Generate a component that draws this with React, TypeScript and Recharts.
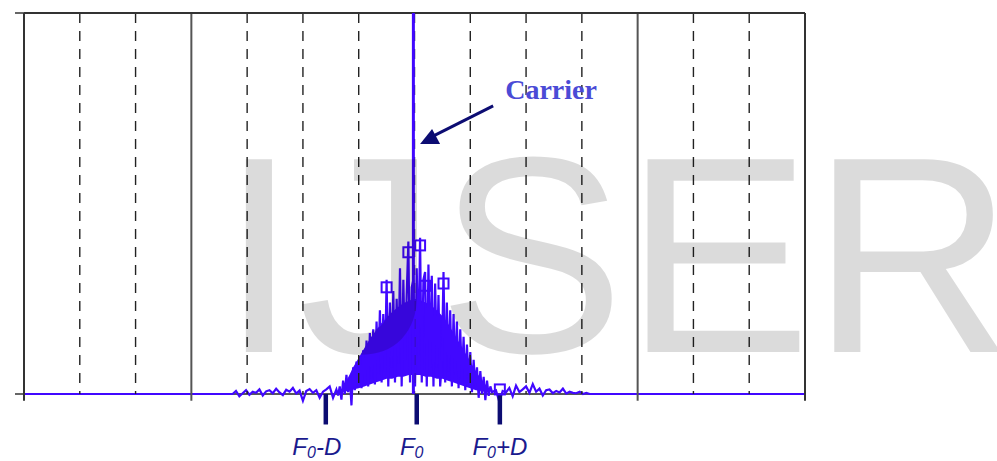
import {
  Area,
  ComposedChart,
  Line,
  ReferenceDot,
  ReferenceLine,
  Scatter,
  XAxis,
  YAxis,
} from 'recharts'

const BLUE = '#4108ff'
const NAVY = '#0c0c72'
const LABEL_NAVY = '#1a1a8e'

// frequency axis: 100 units per grid division, 14 divisions
const GRID_SOLID = [0, 300, 1100, 1400]
const GRID_DASHED = [100, 200, 400, 500, 600, 700, 800, 900, 1000, 1200, 1300]

const CARRIER_FREQ = 698
const CARRIER_LEVEL = 1

// spectrum samples (amplitude, 1 = full scale)
const LEFT_TAIL_START = 374
const CORE_START = 560
const RIGHT_TAIL_START = 846
const TAIL_STEP = 6
const CORE_STEP = 3

const LEFT_TAIL = [
  0, 0.008, -0.006, 0.002, 0.01, -0.002, 0.006, 0.003, 0.012, -0.004, 0.007, 0.01, 0.002,
  0.014, 0.004, -0.003, 0.011, 0.006, 0.016, 0.001, 0.009, -0.018, 0.008, 0.013, 0.003, 0.01,
  -0.01, 0.006, 0.012, 0.02, -0.01,
]

const CORE = [
  0.012, -0.004, 0.02, -0.015, 0.035, 0.0, 0.05, 0.005, 0.045, -0.03,
  0.07, 0.01, 0.085, 0.02, 0.1, 0.015, 0.115, 0.03, 0.14, 0.02,
  0.16, 0.04, 0.17, 0.025, 0.19, 0.05, 0.22, 0.03, 0.21, 0.06,
  0.3, 0.02, 0.24, 0.07, 0.27, 0.03, 0.25, 0.08, 0.33, 0.02,
  0.3, 0.09, 0.26, 0.4, 0.03, 0.28, 0.3, 0.02, 0.33, 0.1,
  0.41, 0.03, 0.3, 0.32, 0.02, 0.34, 0.07, 0.31, 0.02, 0.29,
  0.07, 0.26, 0.02, 0.08, 0.32, 0.03, 0.24, 0.06, 0.22, 0.02,
  0.21, 0.05, 0.19, 0.015, 0.17, 0.04, 0.15, 0.01, 0.13, 0.03,
  0.11, 0.005, 0.09, 0.02, 0.07, -0.01, 0.06, 0.0, 0.045, -0.016,
  0.035, -0.005, 0.02, 0.005,
]

const RIGHT_TAIL = [
  0.01, -0.02, 0.008, 0.004, 0.016, -0.006, 0.022, 0.005, 0.012, 0.02, 0.003, 0.026, 0.006,
  0.014, -0.004, 0.01, 0.012, 0.002, 0.008, 0.004, 0.014, 0.001, 0.006, 0.003, 0.002, 0.006,
  0, 0.003, 0, 0,
]

// solid body of the sideband hump (top and bottom edge)
const BULK_START = 570
const BULK_STEP = 10
const BULK_TOP = [
  0.02, 0.04, 0.07, 0.095, 0.12, 0.145, 0.165, 0.185, 0.2, 0.215, 0.228, 0.238, 0.245, 0.25,
  0.246, 0.24, 0.232, 0.22, 0.205, 0.185, 0.16, 0.135, 0.11, 0.085, 0.06, 0.038, 0.02,
]
const BULK_FLOOR = [
  0.005, 0.008, 0.012, 0.015, 0.02, 0.025, 0.03, 0.035, 0.04, 0.04, 0.045, 0.045, 0.05, 0.05,
  0.05, 0.045, 0.045, 0.04, 0.04, 0.035, 0.03, 0.025, 0.02, 0.015, 0.01, 0.008, 0.005,
]

const MARKER_FREQ = [650, 689, 710, 719, 752, 853]
const MARKER_LEVEL = [0.28, 0.372, 0.39, 0.284, 0.29, 0.012]

const F_TICKS = [541, 704, 853]
const F_SUFFIX = ['-D', '', '+D']
const F_LABEL_DX = [-9, -5, 0]

const ARROW_TAIL = { f: 841, a: 0.756 }
const ARROW_TIP = { f: 710, a: 0.656 }

const spectrum = [
  { f: 0, a: 0 },
  ...LEFT_TAIL.map((a, i) => ({ f: LEFT_TAIL_START + i * TAIL_STEP, a })),
  ...CORE.map((a, i) => ({ f: CORE_START + i * CORE_STEP, a })),
  ...RIGHT_TAIL.map((a, i) => ({ f: RIGHT_TAIL_START + i * TAIL_STEP, a })),
  { f: 1400, a: 0 },
]
const bulk = BULK_TOP.map((top, i) => ({ f: BULK_START + i * BULK_STEP, r: [BULK_FLOOR[i], top] }))
const carrier = [
  { f: CARRIER_FREQ, a: 0 },
  { f: CARRIER_FREQ, a: CARRIER_LEVEL },
]
const markers = MARKER_FREQ.map((f, i) => ({ f, a: MARKER_LEVEL[i] }))

// y domain goes below 0 so the tick bars and labels fit under the baseline
const PLOT_TOP = 13
const PLOT_BOTTOM = 13 + 381 * 1.1

function MarkerSquare(props: any) {
  const { cx, cy } = props
  return (
    <rect x={cx - 5} y={cy - 5} width={10} height={10} fill="none" stroke={BLUE} strokeWidth={2} />
  )
}

function CarrierArrow(props: any) {
  const { x1, y1, x2, y2 } = props
  return (
    <g>
      <line x1={x1} y1={y1} x2={x2 + 13} y2={y2 - 8} stroke={NAVY} strokeWidth={3} />
      <polygon points={`${x2},${y2} ${x2 + 12},${y2 - 15} ${x2 + 20},${y2}`} fill={NAVY} />
      <text
        x={x1 + 12}
        y={y1 - 7}
        fontFamily="'Liberation Serif', 'DejaVu Serif', serif"
        fontWeight="bold"
        fontSize={28}
        fill="#4b4bd6"
      >
        Carrier
      </text>
    </g>
  )
}

function fLabel(i: number) {
  return (props: any) => (
    <text
      x={props.cx + F_LABEL_DX[i]}
      y={props.cy + 31}
      textAnchor="middle"
      fontFamily="'Liberation Sans', Arial, sans-serif"
      fontStyle="italic"
      fontSize={24}
      fill={LABEL_NAVY}
    >
      F
      <tspan fontSize={16} dy={3}>
        0
      </tspan>
      <tspan dy={-3}>{F_SUFFIX[i]}</tspan>
    </text>
  )
}

export default function App() {
  return (
    <div style={{ position: 'absolute', left: 0, top: 0, width: 997, height: 461, background: '#fff' }}>
      <ComposedChart
        width={997}
        height={461}
        margin={{ top: PLOT_TOP, right: 192, bottom: 461 - PLOT_BOTTOM, left: 0 }}
      >
        <XAxis type="number" dataKey="f" domain={[0, 1400]} allowDataOverflow hide />
        <YAxis
          type="number"
          dataKey="a"
          domain={[-0.1, 1]}
          ticks={[0, 1]}
          width={24}
          axisLine={false}
          tickSize={9}
          tickLine={{ stroke: '#333', strokeWidth: 1.5 }}
          tick={() => <g />}
        />

        <ReferenceLine y={0} stroke="#222" strokeWidth={1.5} />

        <Area
          data={bulk}
          dataKey="r"
          type="linear"
          stroke="none"
          fill={BLUE}
          fillOpacity={1}
          isAnimationActive={false}
        />
        <Line
          data={spectrum}
          dataKey="a"
          type="linear"
          stroke={BLUE}
          strokeWidth={2.2}
          dot={false}
          isAnimationActive={false}
        />

        {GRID_DASHED.map((f) => (
          <ReferenceLine
            key={'d' + f}
            segment={[
              { x: f, y: 1 },
              { x: f, y: 0 },
            ]}
            stroke="#222"
            strokeWidth={1.4}
            strokeDasharray="10 8"
          />
        ))}
        {GRID_SOLID.map((f) => (
          <ReferenceLine
            key={'s' + f}
            segment={[
              { x: f, y: 1 },
              { x: f, y: -0.018 },
            ]}
            stroke={f === 0 || f === 1400 ? '#333' : '#555'}
            strokeWidth={2}
          />
        ))}
        <ReferenceLine y={1} stroke="#333" strokeWidth={2} />

        <Line
          data={carrier}
          dataKey="a"
          type="linear"
          stroke={BLUE}
          strokeWidth={3}
          dot={false}
          isAnimationActive={false}
        />
        <Scatter data={markers} dataKey="a" shape={MarkerSquare} isAnimationActive={false} />

        {F_TICKS.map((f) => (
          <ReferenceLine
            key={'t' + f}
            segment={[
              { x: f, y: 0 },
              { x: f, y: -0.08 },
            ]}
            stroke={NAVY}
            strokeWidth={4.5}
          />
        ))}
        {F_TICKS.map((f, i) => (
          <ReferenceDot key={'l' + f} x={f} y={-0.08} r={0} shape={fLabel(i)} />
        ))}

        <ReferenceLine
          segment={[
            { x: ARROW_TAIL.f, y: ARROW_TAIL.a },
            { x: ARROW_TIP.f, y: ARROW_TIP.a },
          ]}
          shape={CarrierArrow}
        />
      </ComposedChart>
      <svg
        width={997}
        height={461}
        style={{ position: 'absolute', left: 0, top: 0, pointerEvents: 'none' }}
      >
        <text
          x={220}
          y={352}
          fontFamily="'Liberation Sans', Arial, sans-serif"
          fontSize={280}
          fill="#000"
          fillOpacity={0.14}
        >
          IJSER
        </text>
      </svg>
    </div>
  )
}
